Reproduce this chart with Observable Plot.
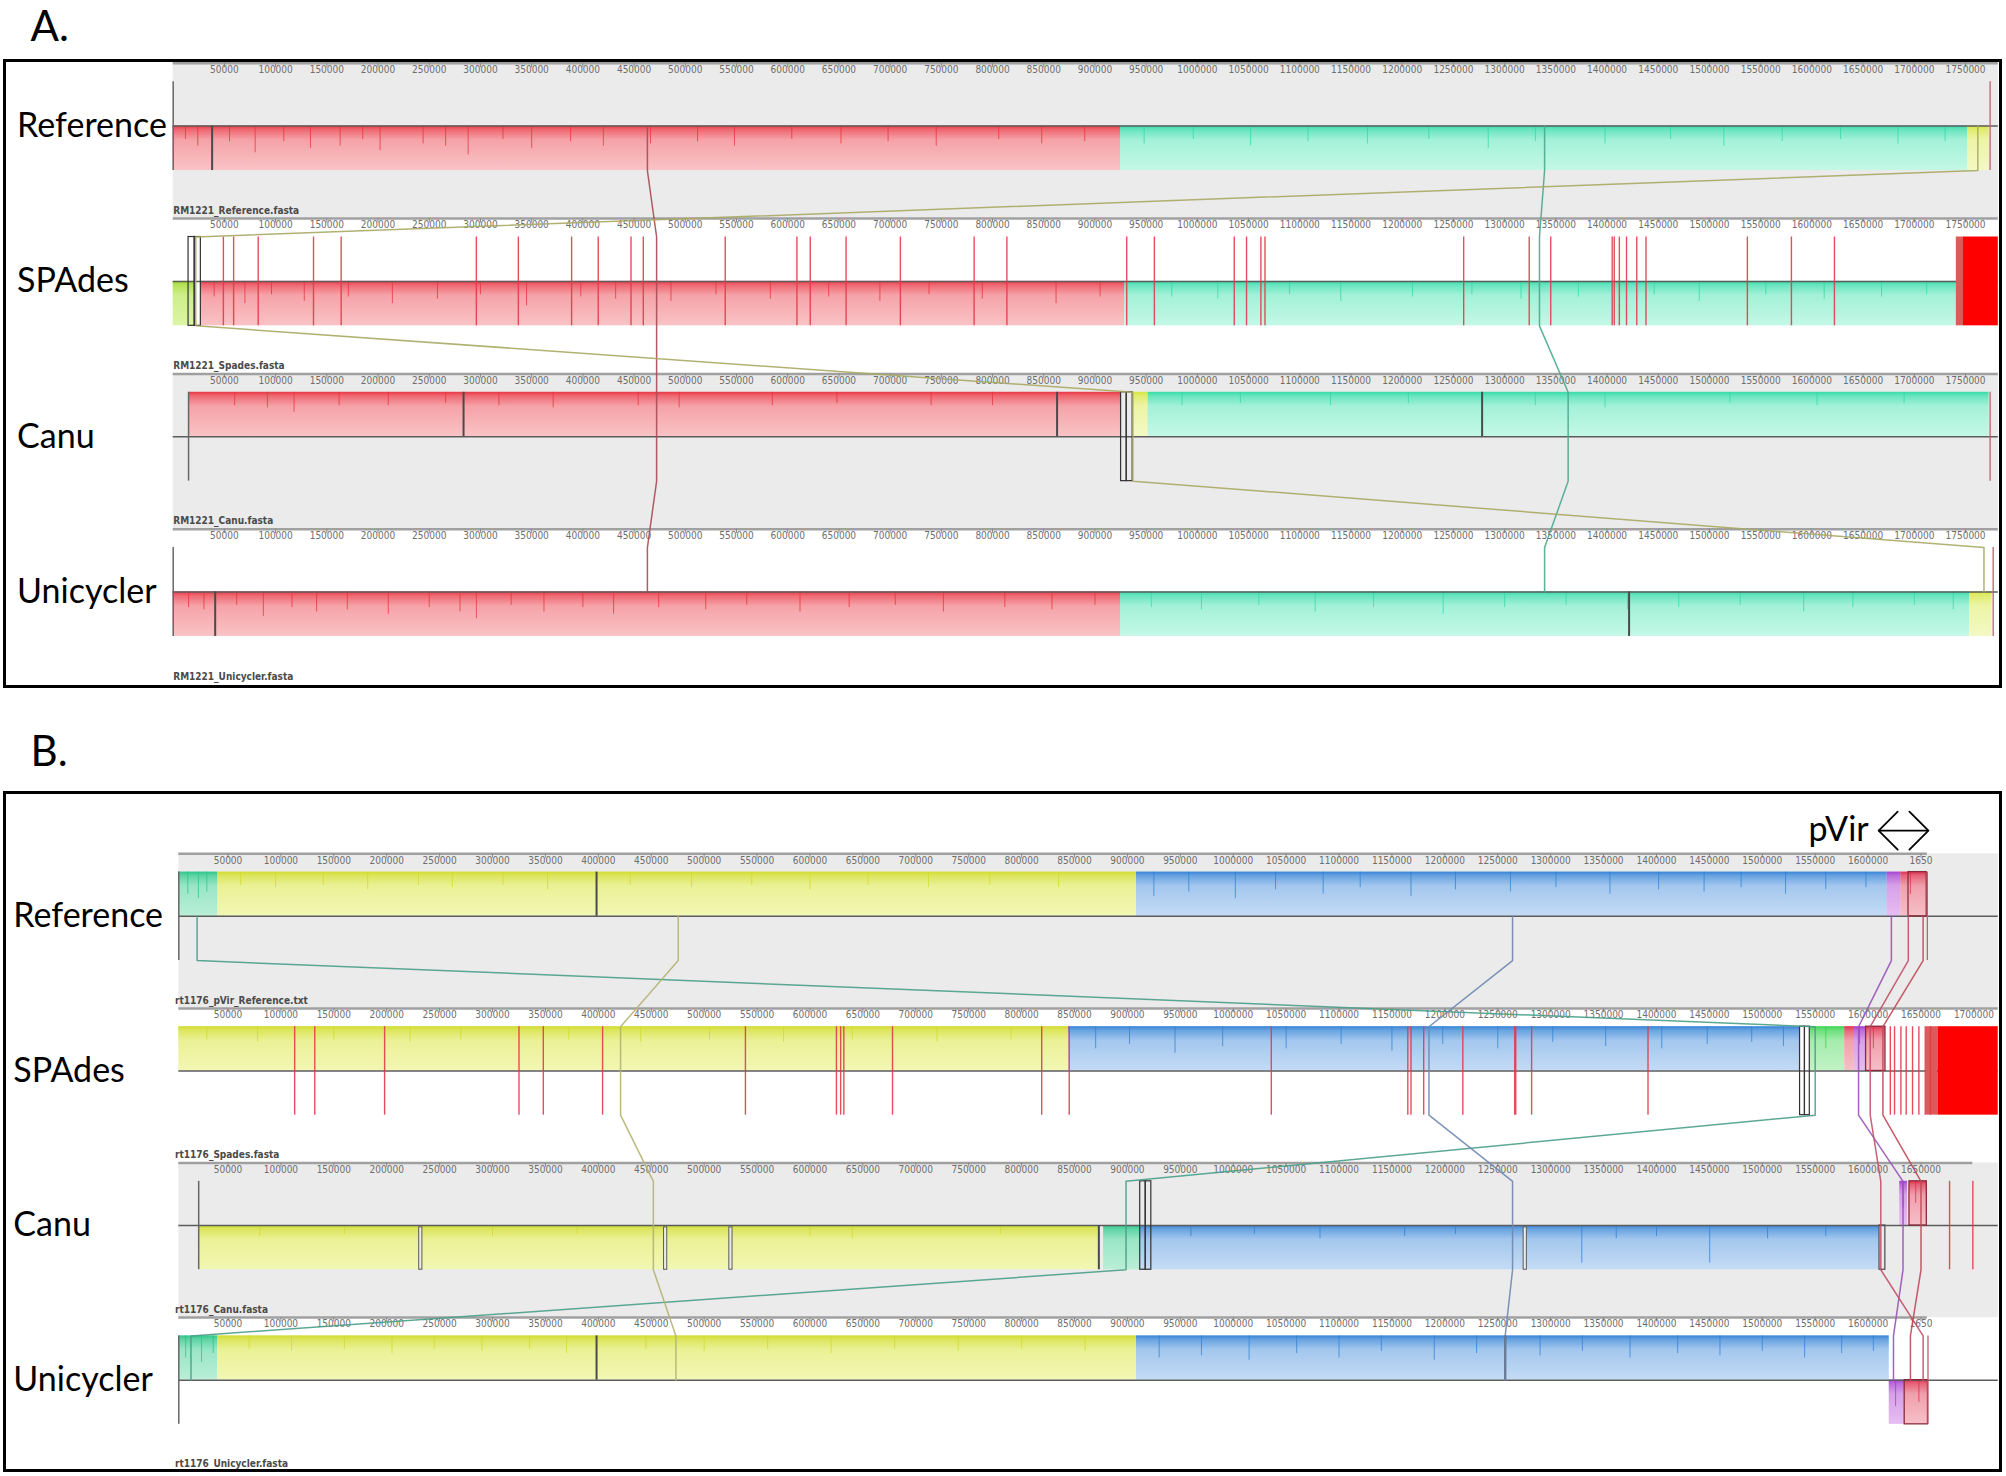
<!DOCTYPE html>
<html><head><meta charset="utf-8">
<script src="https://cdn.jsdelivr.net/npm/d3@7"></script>
<script src="https://cdn.jsdelivr.net/npm/@observablehq/plot@0.6"></script>
<style>
html,body{margin:0;padding:0;background:#fff;width:2006px;height:1476px;overflow:hidden;}
#wrap{position:relative;width:2006px;height:1476px;}
.panel{position:absolute;left:0;}
.box{position:absolute;border:3px solid #000;box-sizing:border-box;pointer-events:none;}
</style></head><body><div id="wrap"></div>
<script>
// ---------------- DATA ----------------
const rowNames = ["Reference", "SPAdes", "Canu", "Unicycler"];
const fileNamesA = ["RM1221_Reference.fasta", "RM1221_Spades.fasta", "RM1221_Canu.fasta", "RM1221_Unicycler.fasta"];
const fileNamesB = ["rt1176_pVir_Reference.txt", "rt1176_Spades.fasta", "rt1176_Canu.fasta", "rt1176_Unicycler.fasta"];

const ticksA = [50000,100000,150000,200000,250000,300000,350000,400000,450000,500000,550000,600000,650000,700000,750000,800000,850000,900000,950000,1000000,1050000,1100000,1150000,1200000,1250000,1300000,1350000,1400000,1450000,1500000,1550000,1600000,1650000,1700000,1750000];
const ticksB = [50000,100000,150000,200000,250000,300000,350000,400000,450000,500000,550000,600000,650000,700000,750000,800000,850000,900000,950000,1000000,1050000,1100000,1150000,1200000,1250000,1300000,1350000,1400000,1450000,1500000,1550000,1600000,1650000,1700000];
const rulerEndA = [1782000, 1782000, 1782000, 1782000];
const rulerEndB = [1656000, 1723000, 1699000, 1656000];

// blocks: [start, end, lcb, side] side 1 = below centre line, -1 = above
const blocksRefA = [[0, 925000, "red", 1], [925000, 1752000, "cyan", 1], [1752000, 1773000, "yellow", 1]];
const blocksSpadesA = [[0, 21000, "lime", 1], [27000, 929000, "red", 1], [929000, 1741000, "cyan", 1]];
const blocksCanuA = [[15000, 925500, "red", -1], [936800, 952000, "yellow", -1], [952000, 1773000, "cyan", -1]];
const blocksUniA = [[0, 925000, "red", 1], [925000, 1754000, "cyan", 1], [1754000, 1776000, "yellow", 1]];

const blocksRefB = [[3500, 40400, "mint", -1], [40400, 908600, "yellowB", -1], [908600, 1618000, "blue", -1], [1618000, 1631000, "violet", -1], [1631000, 1655400, "pink", -1]];
const blocksSpadesB = [[3500, 844400, "yellowB", -1], [844400, 1535700, "blue", -1], [1544900, 1577900, "green", -1], [1577900, 1587100, "pink", -1], [1587100, 1598100, "violet", -1], [1598100, 1616400, "pink", -1]];
const blocksCanuB = [[22300, 874200, "yellowB", 1], [877500, 912200, "mint", 1], [912200, 1610800, "blue", 1], [1629900, 1637300, "violet", -1], [1639100, 1655500, "pink", -1]];
const blocksUniB = [[3500, 40400, "mint", -1], [40400, 908600, "yellowB", -1], [908600, 1620000, "blue", -1], [1620000, 1634600, "violet", 1], [1634600, 1656600, "pink", 1]];

// similarity-profile spikes: [position, depth as share of block height]
const spikesRefA = [[12000,.3],[24000,.45],[55000,.35],[80000,.6],[108000,.35],[134000,.5],[163000,.45],[185000,.3],[202000,.55],[244000,.4],[266000,.45],[288000,.65],[322000,.3],[350000,.5],[388000,.35],[420000,.45],[466000,.4],[512000,.35],[548000,.45],[604000,.3],[652000,.4],[698000,.35],[745000,.45],[806000,.3],[848000,.4],[890000,.35],[948000,.4],[996000,.3],[1052000,.45],[1108000,.35],[1166000,.4],[1226000,.3],[1284000,.5],[1330000,.35],[1398000,.4],[1462000,.3],[1514000,.45],[1571000,.35],[1628000,.3],[1684000,.4],[1730000,.35]];
const spikesSpadesA = [[40000,.35],[70000,.5],[96000,.3],[128000,.45],[171000,.35],[214000,.5],[258000,.4],[300000,.3],[345000,.55],[398000,.35],[432000,.4],[486000,.45],[530000,.3],[583000,.4],[640000,.35],[690000,.45],[738000,.3],[790000,.4],[862000,.5],[905000,.35],[975000,.35],[1020000,.4],[1090000,.3],[1140000,.45],[1210000,.35],[1268000,.3],[1316000,.4],[1372000,.35],[1446000,.3],[1490000,.45],[1555000,.3],[1612000,.4],[1668000,.35],[1712000,.3]];
const spikesCanuA = [[60000,.3],[92000,.35],[118000,.45],[162000,.3],[210000,.3],[266000,.25],[318000,.3],[371000,.35],[454000,.3],[494000,.35],[585000,.3],[648000,.25],[740000,.3],[800000,.3],[985000,.3],[1042000,.25],[1130000,.3],[1206000,.25],[1330000,.3],[1398000,.35],[1520000,.25],[1605000,.3],[1690000,.25]];
const spikesUniA = [[15000,.35],[30000,.4],[62000,.3],[88000,.55],[116000,.35],[140000,.45],[170000,.4],[210000,.5],[250000,.35],[280000,.45],[296000,.6],[330000,.3],[362000,.45],[400000,.35],[430000,.5],[474000,.35],[520000,.4],[560000,.3],[612000,.45],[660000,.35],[705000,.3],[752000,.45],[812000,.35],[858000,.4],[900000,.3],[955000,.35],[1004000,.4],[1060000,.3],[1115000,.45],[1172000,.35],[1240000,.5],[1300000,.35],[1360000,.3],[1420000,.4],[1470000,.35],[1530000,.3],[1592000,.45],[1640000,.35],[1700000,.3],[1738000,.4]];
const spikesRefB = [[12000,.5],[22000,.6],[30000,.45],[62000,.3],[95000,.35],[140000,.3],[182000,.4],[230000,.3],[262000,.35],[310000,.3],[352000,.4],[430000,.3],[488000,.35],[545000,.3],[600000,.4],[655000,.3],[712000,.35],[770000,.3],[835000,.35],[925000,.55],[958000,.45],[1002000,.6],[1040000,.4],[1085000,.5],[1120000,.35],[1168000,.55],[1210000,.4],[1262000,.45],[1305000,.35],[1356000,.5],[1402000,.4],[1445000,.45],[1480000,.35],[1522000,.5],[1560000,.4],[1598000,.35],[1640000,.5]];
const spikesSpadesB = [[30000,.3],[78000,.35],[150000,.3],[222000,.35],[270000,.3],[372000,.3],[440000,.35],[505000,.3],[575000,.35],[640000,.3],[720000,.35],[790000,.3],[870000,.5],[902000,.4],[945000,.6],[990000,.45],[1050000,.5],[1102000,.4],[1150000,.55],[1198000,.4],[1250000,.5],[1302000,.35],[1352000,.45],[1405000,.5],[1448000,.4],[1490000,.35],[1520000,.45],[1560000,.5],[1592000,.4],[1605000,.5]];
const spikesCanuB = [[80000,.25],[160000,.2],[300000,.25],[380000,.2],[600000,.25],[640000,.3],[780000,.2],[960000,.25],[1020000,.2],[1082000,.3],[1162000,.25],[1210000,.2],[1329400,.85],[1362000,.3],[1400000,.25],[1450300,.85],[1505000,.3],[1560000,.25],[1633000,.6],[1645000,.5]];
const spikesUniB = [[10000,.5],[25000,.6],[36000,.4],[70000,.3],[110000,.35],[160000,.3],[205000,.4],[245000,.3],[290000,.35],[335000,.3],[370000,.4],[445000,.3],[500000,.35],[560000,.3],[620000,.4],[680000,.3],[740000,.35],[800000,.3],[860000,.35],[930000,.5],[970000,.45],[1015000,.55],[1060000,.4],[1100000,.5],[1140000,.35],[1190000,.55],[1230000,.4],[1290000,.45],[1330000,.35],[1375000,.5],[1420000,.4],[1460000,.45],[1500000,.35],[1540000,.5],[1575000,.4],[1605000,.35],[1626000,.6],[1648000,.5]];

// dark gap lines inside blocks: [row, position]
const notchesA = [[0, 38000], [2, 283500], [2, 863000], [2, 1278000], [3, 41000], [3, 1421500]];
const notchesB = [[0, 398300], [2, 873000], [3, 398300], [3, 1257100]];
const gapsB = [[2, 232200], [2, 463600], [2, 525300], [2, 1276000]];

// SPAdes contig boundaries
const spadesContigsA = [49000,59000,83000,137000,164000,296000,337000,389000,415000,447000,459000,539000,609000,622000,657000,710000,782000,814000,931000,958000,1036000,1048000,1062000,1066000,1260000,1324000,1345000,1405000,1407000,1412000,1419000,1429000,1438000,1537000,1580000,1622000];
const spadesContigsB = [113000,132000,198000,325000,348000,404000,539000,625000,629000,632000,678000,819000,845000,1036000,1165000,1168000,1180000,1217000,1266000,1267000,1282000,1392000,1621000,1625000,1631000,1636000,1642000,1648000,1654000,1659000];
const canuContigsB = [1677000, 1699000];
const spadesTailA = [1741000, 1748000];
const spadesTailB = [1655000, 1666000];

// outlined boxes (full track height): [row, start, end]
const boxesA = [[1, 15000, 21000], [1, 21000, 27000], [2, 925500, 931000], [2, 931000, 936800]];
const boxesB = [[1, 1535700, 1540300], [1, 1540300, 1544900], [2, 912100, 917300], [2, 917300, 922600]];
// outlined block groups: [row, start, end, side]
const pinkOutlinesB = [[0, 1638200, 1655400, -1], [1, 1598100, 1616400, -1], [2, 1639100, 1655500, -1], [3, 1634600, 1656600, 1]];
const grayOutlinesB = [[2, 1610800, 1616300, 1]];

const startMarksA = [[0, 0], [2, 15000], [3, 0]];
const endMarksA = [[0, 1774000], [2, 1774000], [3, 1777000]];
const startMarksB = [[0, 3500], [2, 22300], [3, 3500]];
const endMarksB = [[0, 1656000], [3, 1656600]];

// LCB connecting lines: x position in Reference, SPAdes, Canu, Unicycler
const connRedA = [463000, 472000, 472000, 463000];
const connCyanA = [1339000, 1334000, 1362000, 1339000];
const connOliveA = [1762000, 22000, 937000, 1768000];
const connGreenB = [20800, 1550000, 898700, 15000];
const connOliveB = [475500, 421000, 452000, 473300];
const connBlueB = [1264000, 1185000, 1264000, 1257000];
const connVioletB = [1622000, 1591000, 1633000, 1624000];
const connPinkB1 = [1638000, 1602000, 1612000, 1652000];
const connPinkB2 = [1652000, 1614000, 1650000, 1640000];

const pVirRegion = [1610000, 1657000];

// ---------------- STYLE ----------------
const LCB = {
  red: ["#f9c3c6", "#e8303e"], cyan: ["#c4f8e6", "#2fd9a6"], yellow: ["#f3f9c4", "#d4e43a"],
  lime: ["#dcf5a6", "#9ed62a"], yellowB: ["#f2f7b4", "#cfdb28"], blue: ["#c4dbf5", "#2f80d4"],
  mint: ["#b9efd6", "#28c487"], green: ["#c2f3c6", "#36d44e"], violet: ["#e6bdf1", "#a23ccc"],
  pink: ["#f6c0c8", "#dc2c48"]
};
const NARROW = "'Liberation Sans Narrow','Arial Narrow','DejaVu Sans Condensed',sans-serif";
const LABEL = "Lato, 'Open Sans', sans-serif";
const W = 2006;
const F_YC = 0.4045, F_H = 0.286, F_TL = 0.043, F_TK = 0.028, F_FN = 0.948;

function buildPanel(P) {
  const yc = i => i + F_YC;
  const blocks = P.blocks.flatMap((list, i) => list.map(([s, e, l, side]) => {
    const y1 = side > 0 ? yc(i) : yc(i) - F_H;
    return {row: i, s, e, l, y1, y2: y1 + F_H, fill: LCB[l][0], sat: LCB[l][1], grad: `url(#${P.id}-${l})`};
  }));
  const findBlock = (i, p) => blocks.find(b => b.row === i && p >= b.s && p <= b.e);
  const spikes = P.spikes.flatMap((list, i) => list.map(([p, d]) => {
    const b = findBlock(i, p);
    return b ? {p, y1: b.y1, y2: b.y1 + d * F_H, c: b.sat} : null;
  }).filter(Boolean));
  const notches = P.notches.map(([i, p]) => {
    const b = findBlock(i, p) || {y1: yc(i) - F_H, y2: yc(i) + F_H};
    return {p, y1: b.y1, y2: b.y2};
  });
  const gaps = P.gaps.map(([i, p]) => {
    const b = findBlock(i, p) || {y1: yc(i), y2: yc(i) + F_H};
    return {p, y1: b.y1 + 0.012, y2: b.y2};
  });
  const ticks = [0, 1, 2, 3].flatMap(i => P.ticks.filter(t => t <= P.rulerEnd[i]).map(t => ({
    t, i, label: t + 15000 > P.rulerEnd[i] ? String(t).slice(0, 4) : String(t)
  })));
  const conn = P.connectors.flatMap(([xs, c], k) => xs.flatMap((x, i) => [
    {k, c, x, y: i === 0 ? yc(i) : yc(i) - F_H},
    {k, c, x, y: i === xs.length - 1 ? yc(i) : yc(i) + F_H}
  ]));
  const contigs = P.contigs.map(([i, p]) => ({p, i}));
  const rows = [0, 1, 2, 3];
  const gapHalf = 1.6 / P.k; // 1.6 px expressed in base pairs

  const marks = [
    () => {
      const defs = d3.create("svg:defs");
      for (const [k, c] of Object.entries(LCB)) {
        const g = defs.append("linearGradient").attr("id", `${P.id}-${k}`)
          .attr("x1", 0).attr("x2", 0).attr("y1", 0).attr("y2", 1);
        g.append("stop").attr("offset", "0%").attr("stop-color", c[1]).attr("stop-opacity", 0.95);
        g.append("stop").attr("offset", "9%").attr("stop-color", c[1]).attr("stop-opacity", 0.62);
        g.append("stop").attr("offset", "32%").attr("stop-color", c[1]).attr("stop-opacity", 0.22);
        g.append("stop").attr("offset", "100%").attr("stop-color", c[1]).attr("stop-opacity", 0);
      }
      return defs.node();
    },
    Plot.rect(P.grayRows, {x1: P.bgStart, x2: P.bgEnd, y1: i => i, y2: i => i + 1, fill: "#ebebeb"}),
    Plot.ruleY(rows, {y: i => i, x1: P.bgStart, x2: i => P.rulerEnd[i], stroke: "#a0a0a0", strokeWidth: 2.5}),
    Plot.ruleX(ticks, {x: "t", y1: d => d.i, y2: d => d.i + F_TK, stroke: "#8a8a8a", strokeWidth: 1}),
    Plot.text(ticks, {x: "t", y: d => d.i + F_TL, text: "label", fontSize: 10, fontFamily: NARROW, fill: "#6e6e6e"}),
    Plot.text(rows, {frameAnchor: "left", y: i => i + F_FN, text: i => P.files[i], textAnchor: "start",
      fontSize: 10, fontWeight: "bold", fontFamily: NARROW, fill: "#4a4a4a"}),
    Plot.rect(blocks, {x1: "s", x2: "e", y1: "y1", y2: "y2", fill: "fill"}),
    Plot.rect(blocks, {x1: "s", x2: "e", y1: "y1", y2: "y2", fill: "grad"}),
    Plot.ruleX(spikes, {x: "p", y1: "y1", y2: "y2", stroke: "c", strokeOpacity: 0.75, strokeWidth: 1}),
    Plot.ruleY(rows, {y: yc, x1: P.bgStart, x2: P.bgEnd, stroke: "#5c5c5c", strokeWidth: 1.5}),
    Plot.rect(gaps, {x1: d => d.p - gapHalf, x2: d => d.p + gapHalf, y1: "y1", y2: "y2", fill: "#ebebeb", stroke: "#5a5a5a", strokeWidth: 1}),
    Plot.ruleX(notches, {x: "p", y1: "y1", y2: "y2", stroke: "#4a4a4a", strokeWidth: 2}),
    Plot.rect([P.tail], {x1: d => d[0], x2: d => d[1], y1: P.tailRow + F_YC - F_H, y2: P.tailRow + F_YC + F_H, fill: "#dd5a5a"}),
    Plot.rect([P.tail], {x1: d => d[1], x2: P.bgEnd, y1: P.tailRow + F_YC - F_H, y2: P.tailRow + F_YC + F_H, fill: "#ff0000"}),
    Plot.ruleX(contigs, {x: "p", y1: d => yc(d.i) - F_H, y2: d => yc(d.i) + F_H, stroke: "#e23a4a", strokeWidth: 1.4, strokeOpacity: 0.9}),
    Plot.rect(P.boxes, {x1: d => d[1], x2: d => d[2], y1: d => yc(d[0]) - F_H, y2: d => yc(d[0]) + F_H, fill: "none", stroke: "#333", strokeWidth: 1.2}),
    Plot.rect(P.pinkOutlines, {x1: d => d[1], x2: d => d[2], y1: d => d[3] > 0 ? yc(d[0]) : yc(d[0]) - F_H, y2: d => d[3] > 0 ? yc(d[0]) + F_H : yc(d[0]), fill: "none", stroke: "#8c2a3c", strokeWidth: 1.3}),
    Plot.rect(P.grayOutlines, {x1: d => d[1], x2: d => d[2], y1: d => d[3] > 0 ? yc(d[0]) : yc(d[0]) - F_H, y2: d => d[3] > 0 ? yc(d[0]) + F_H : yc(d[0]), fill: "none", stroke: "#555", strokeWidth: 1.3}),
    Plot.ruleX(P.startMarks, {x: d => d[1], y1: d => yc(d[0]) - F_H, y2: d => yc(d[0]) + F_H, stroke: "#666", strokeWidth: 1.5}),
    Plot.ruleX(P.endMarks, {x: d => d[1], y1: d => yc(d[0]) - F_H, y2: d => yc(d[0]) + F_H, stroke: "#c0606a", strokeWidth: 1.3}),
    Plot.line(conn, {x: "x", y: "y", z: "k", stroke: "c", strokeWidth: 1.5, strokeOpacity: 0.9}),
    Plot.text(rows, {frameAnchor: "left", y: yc, dx: P.labelX - P.x0, text: i => rowNames[i], textAnchor: "start",
      fontSize: 34, fontFamily: LABEL, fill: "#000"}),
    Plot.text([P.title], {frameAnchor: "left", y: P.titleY, dx: 30 - P.x0, text: d => d, textAnchor: "start",
      fontSize: 42, fontFamily: LABEL, fill: "#000"}),
    ...(P.extra || [])
  ];

  return Plot.plot({
    width: W, height: P.height,
    marginLeft: P.x0, marginRight: 0, marginTop: 0, marginBottom: 0,
    x: {domain: [0, P.D], range: [P.x0, W], axis: null},
    y: {domain: [0, 4], range: P.yRange, axis: null},
    color: {type: "identity"},
    style: {background: "none", overflow: "visible"},
    marks
  });
}

const panelA = buildPanel({
  id: "pa", x0: 172.7, k: 0.0010242, D: 1790000, height: 700, yRange: [62.8, 684.0],
  bgStart: 0, bgEnd: 1782000, grayRows: [0, 2], rulerEnd: rulerEndA, ticks: ticksA,
  files: fileNamesA, labelX: 16.6, title: "A.", titleY: -0.232,
  blocks: [blocksRefA, blocksSpadesA, blocksCanuA, blocksUniA],
  spikes: [spikesRefA, spikesSpadesA, spikesCanuA, spikesUniA],
  notches: notchesA, gaps: [],
  contigs: spadesContigsA.map(p => [1, p]),
  tail: spadesTailA, tailRow: 1,
  boxes: boxesA, pinkOutlines: [], grayOutlines: [],
  startMarks: startMarksA, endMarks: endMarksA,
  connectors: [[connRedA, "#a84a55"], [connCyanA, "#4aa88e"], [connOliveA, "#a9a865"]]
});

// pVir double arrow: shaft plus two chevron heads (head size given in pixels, converted through the scale factors)
const kB = 0.0010581, rowPxB = 154.6;
const yArrow = -0.15;
const headX = 19 / kB, headY = 19 / rowPxB;
const pVirHeads = [
  {id: 0, x: pVirRegion[0] + headX, y: yArrow - headY}, {id: 0, x: pVirRegion[0], y: yArrow}, {id: 0, x: pVirRegion[0] + headX, y: yArrow + headY},
  {id: 1, x: pVirRegion[1] - headX, y: yArrow - headY}, {id: 1, x: pVirRegion[1], y: yArrow}, {id: 1, x: pVirRegion[1] - headX, y: yArrow + headY}
];

const panelB = buildPanel({
  id: "pb", x0: 174.6, k: kB, D: 1730800, height: 776, yRange: [153.3, 771.7],
  bgStart: 3500, bgEnd: 1723000, grayRows: [0, 2], rulerEnd: rulerEndB, ticks: ticksB,
  files: fileNamesB, labelX: 12.8, title: "B.", titleY: -0.655,
  blocks: [blocksRefB, blocksSpadesB, blocksCanuB, blocksUniB],
  spikes: [spikesRefB, spikesSpadesB, spikesCanuB, spikesUniB],
  notches: notchesB, gaps: gapsB,
  contigs: spadesContigsB.map(p => [1, p]).concat(canuContigsB.map(p => [2, p])),
  tail: spadesTailB, tailRow: 1,
  boxes: boxesB, pinkOutlines: pinkOutlinesB, grayOutlines: grayOutlinesB,
  startMarks: startMarksB, endMarks: endMarksB,
  connectors: [[connGreenB, "#4a9f88"], [connOliveB, "#b3b273"], [connBlueB, "#6f88b0"],
               [connVioletB, "#9a50b8"], [connPinkB1, "#c25068"], [connPinkB2, "#c04858"]],
  extra: [
    Plot.ruleY([yArrow], {y: d => d, x1: pVirRegion[0], x2: pVirRegion[1], stroke: "#000", strokeWidth: 1.8}),
    Plot.line(pVirHeads, {x: "x", y: "y", z: "id", stroke: "#000", strokeWidth: 1.8}),
    Plot.text([pVirRegion], {x: d => d[0], y: yArrow - 0.005, dx: -10, text: () => "pVir", textAnchor: "end",
      fontSize: 34, fontFamily: LABEL, fill: "#000"})
  ]
});

const wrap = document.getElementById("wrap");
panelA.classList.add("panel"); panelA.style.top = "0px";
panelB.classList.add("panel"); panelB.style.top = "700px";
wrap.appendChild(panelA);
wrap.appendChild(panelB);
for (const [t, h] of [[59, 629], [791, 681]]) {
  const b = document.createElement("div");
  b.className = "box";
  b.style.left = "3px"; b.style.top = t + "px"; b.style.width = "1999px"; b.style.height = h + "px";
  wrap.appendChild(b);
}
</script></body></html>
